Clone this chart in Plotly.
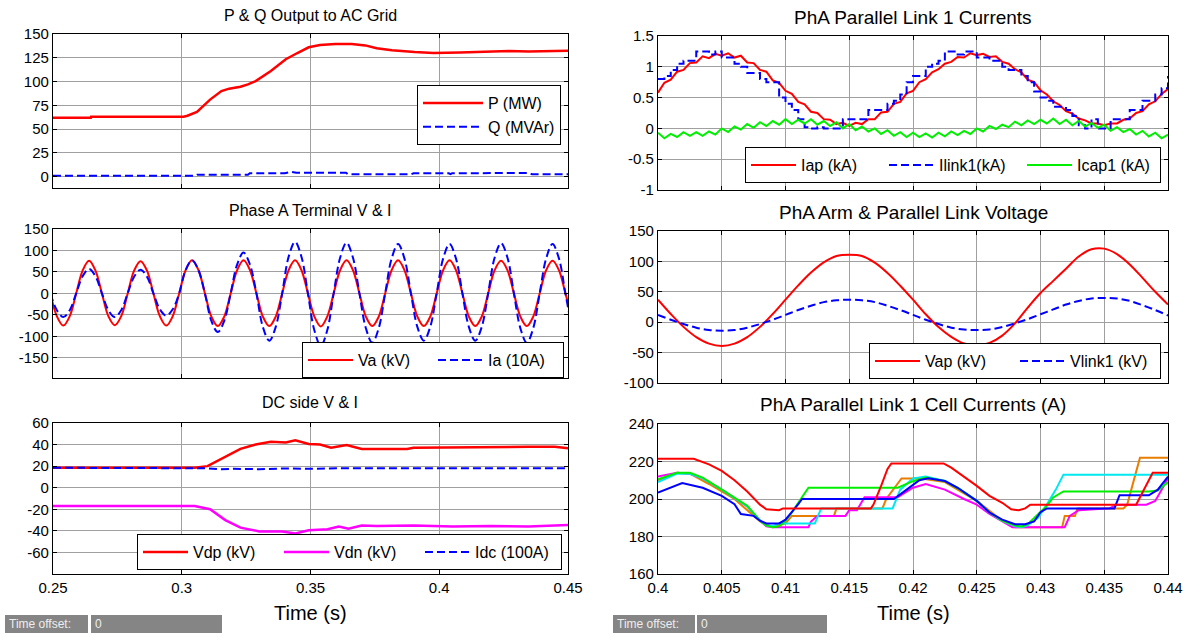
import numpy as np
import plotly.graph_objects as go

# ------------------------------------------------------------------ data
# Plot 1: P & Q output to AC grid
P_T = [0.25, 0.2647, 0.2648, 0.3007, 0.3022, 0.3059, 0.311, 0.3154, 0.3184, 0.3228, 0.3257,
       0.3287, 0.3346, 0.3404, 0.3449, 0.3493, 0.3537, 0.3596, 0.366, 0.3713, 0.3757, 0.3816,
       0.3904, 0.3978, 0.408, 0.4184, 0.4272, 0.4346, 0.4419, 0.45]
P_V = [62, 62, 63, 63, 64, 68, 81, 90, 92.5, 94.5, 97, 100.5, 111, 123.5, 130, 136, 138.5,
       139.5, 139.5, 138, 135, 133, 131, 130, 130.5, 131, 132, 131.5, 132, 132.5]
Q_T = [0.25, 0.3054, 0.306, 0.3257, 0.3264, 0.34, 0.3426, 0.3445, 0.3638, 0.3645, 0.3892,
       0.39, 0.4037, 0.4044, 0.405, 0.432, 0.4345, 0.436, 0.45]
Q_V = [1, 1, 2, 2, 3.5, 3.5, 5, 4, 4, 2.5, 2.5, 3.5, 3.5, 2.5, 3.5, 3.5, 3.8, 2.5, 2.5]

# Plot 2: Phase A terminal V & I (sampled every 2.5 ms from 0.249 s)
AC_T0, AC_DT = 0.249, 0.0025
VA = [0, -53, -75, -53, 0, 53, 76, 53,
      0, -53, -74, -53, 0, 53, 75, 53,
      0, -53, -75, -53, 0, 54, 77, 54,
      0, -54, -76, -54, 0, 54, 77, 54,
      0, -54, -76, -54, 0, 54, 77, 54,
      0, -54, -77, -54, 0, 54, 77, 54,
      0, -54, -76, -54, 0, 54, 77, 54,
      0, -54, -76, -54, 0, 54, 77, 54,
      0, -54, -76, -54, 0, 54, 76, 54,
      0, -54, -76, -54, 0, 54, 76, 54,
      0, -54]
IA = [0, -39, -55, -39, 0, 40, 57, 40,
      0, -39, -55, -39, 0, 39, 55, 39,
      0, -37, -52, -37, 0, 54, 77, 54,
      0, -64, -90, -64, 0, 67, 95, 67,
      0, -78, -110, -78, 0, 85, 120, 85,
      0, -86, -122, -86, 0, 83, 118, 83,
      0, -81, -115, -81, 0, 81, 115, 81,
      0, -78, -110, -78, 0, 81, 115, 81,
      0, -78, -110, -78, 0, 83, 117, 83,
      0, -81, -115, -81, 0, 81, 115, 81,
      0, -80]

# Plot 3: DC side V & I
VDP_T = [0.25, 0.305, 0.31, 0.314, 0.3228, 0.3287, 0.3346, 0.3404, 0.3441, 0.3493, 0.3537,
         0.358, 0.364, 0.3699, 0.3757, 0.3875, 0.39, 0.4051, 0.4199, 0.4346, 0.4449, 0.45]
VDP_V = [18.5, 18.5, 20, 25, 36, 40, 42.5, 42, 44, 40.5, 40, 37, 39.5, 36, 36, 36, 37, 37.5,
         38, 38, 38, 36.5]
VDN_T = [0.25, 0.2993, 0.305, 0.311, 0.3169, 0.3228, 0.3301, 0.339, 0.3441, 0.3493, 0.3566,
         0.361, 0.3647, 0.3699, 0.3757, 0.39, 0.4051, 0.4199, 0.4346, 0.45]
VDN_V = [-17, -16.5, -17, -20, -30, -37, -40.5, -40.5, -42.5, -39.5, -38.5, -36, -38, -35,
         -35.5, -35, -36, -35.5, -36, -34.5]
IDC_T = [0.25, 0.305, 0.31, 0.315, 0.32, 0.33, 0.34, 0.35, 0.36, 0.38, 0.40, 0.42, 0.45]
IDC_V = [18.5, 18.5, 18, 17, 17.5, 17.2, 17.8, 17.5, 18, 18, 18.2, 18, 18]

# Plot 4: PhA parallel link 1 currents (sampled every 0.5 ms from 0.4 s)
LK_T0, LK_DT = 0.4, 0.0005
IAP = [0.58, 0.74, 0.79, 0.92, 0.95, 1.06, 1.07, 1.17, 1.14, 1.21,
       1.18, 1.22, 1.15, 1.18, 1.07, 1.06, 0.95, 0.92, 0.78, 0.74,
       0.61, 0.56, 0.43, 0.39, 0.27, 0.25, 0.15, 0.14, 0.07, 0.09,
       0.04, 0.09, 0.07, 0.15, 0.15, 0.26, 0.27, 0.40, 0.43, 0.57,
       0.61, 0.75, 0.80, 0.91, 0.96, 1.05, 1.08, 1.16, 1.15, 1.22,
       1.19, 1.21, 1.16, 1.17, 1.08, 1.05, 0.96, 0.91, 0.79, 0.75,
       0.62, 0.55, 0.44, 0.38, 0.28, 0.24, 0.16, 0.13, 0.08, 0.08,
       0.05, 0.08, 0.08, 0.14, 0.16, 0.25, 0.28, 0.39, 0.44, 0.56,
       0.64]
ILINK1 = [0.8, 0.85, 0.95, 1.05, 1.1, 1.1, 1.25, 1.25, 1.2, 1.25,
          1.15, 1.15, 1.05, 1.0, 0.9, 0.9, 0.8, 0.75, 0.75, 0.5,
          0.4, 0.3, 0.15, 0.02, 0.0, 0.02, 0.0, 0.0, 0.0, 0.15,
          0.15, 0.15, 0.15, 0.3, 0.3, 0.3, 0.4, 0.45, 0.55, 0.75,
          0.85, 0.85, 1.0, 1.05, 1.1, 1.25, 1.25, 1.2, 1.25, 1.25,
          1.15, 1.15, 1.1, 1.1, 1.0, 0.95, 0.95, 0.85, 0.75, 0.6,
          0.5, 0.45, 0.35, 0.35, 0.3, 0.2, 0.05, 0.0, 0.15, 0.0,
          0.0, 0.15, 0.15, 0.15, 0.3, 0.3, 0.45, 0.45, 0.55, 0.65,
          0.85]
ICAP1 = [-0.07, -0.16, -0.09, -0.14, -0.06, -0.12, -0.06, -0.12, -0.05, -0.10,
         0.0, -0.06, 0.03, -0.02, 0.07, 0.01, 0.10, 0.04, 0.12, 0.06,
         0.15, 0.07, 0.14, 0.08, 0.15, 0.06, 0.12, 0.04, 0.10, 0.0,
         0.07, -0.03, 0.03, -0.05, 0.0, -0.09, -0.03, -0.12, -0.06, -0.14,
         -0.07, -0.14, -0.08, -0.15, -0.07, -0.13, -0.05, -0.11, -0.04, -0.09,
         0.0, -0.05, 0.04, -0.01, 0.06, 0.02, 0.11, 0.05, 0.13, 0.07,
         0.14, 0.08, 0.16, 0.07, 0.14, 0.05, 0.12, 0.03, 0.09, 0.01,
         0.06, -0.04, 0.02, -0.06, -0.01, -0.10, -0.04, -0.13, -0.07, -0.16,
         -0.10]

# Plot 5: PhA arm & parallel link voltage (sampled every 1 ms from 0.4 s)
VL_T0, VL_DT = 0.4, 0.001
VAP = [37, 13.5, -7.7, -24.5, -35.3, -39, -35.3, -24.5, -7.7, 13.5,
       37, 60.5, 81.7, 98.5, 109, 111, 109, 98, 81, 60,
       37, 13, -8, -24, -35, -38, -34, -22, -2, 24,
       48, 68, 88, 108, 120, 121, 112, 95, 73, 50,
       29]
VLINK1 = [12, 4, -3, -9, -13, -14, -13, -9, -3, 4,
          12, 20, 27, 33, 36, 37, 36, 33, 27, 20,
          12, 4, -3, -9, -12, -13, -12, -8, -2, 5,
          13, 21, 29, 35, 39, 40, 39, 35, 28, 20,
          11]

# Plot 6: PhA parallel link 1 cell currents (A)
CELL_ORANGE_T = [0.4, 0.4015, 0.4025, 0.404, 0.406, 0.408, 0.409, 0.41, 0.4105, 0.4138, 0.414,
                 0.4176, 0.4179, 0.4191, 0.4205, 0.4225, 0.425, 0.427, 0.428, 0.4317, 0.4319,
                 0.4327, 0.4329, 0.4365, 0.4368, 0.4378, 0.44]
CELL_ORANGE_V = [210, 214, 213.5, 208, 200, 188, 185, 187, 191, 191, 195, 195, 200, 211, 211,
                 209, 199, 188.4, 185, 185, 191, 191, 195, 195, 197, 222, 222]
CELL_MAGENTA_T = [0.4, 0.4015, 0.4025, 0.4035, 0.405, 0.406, 0.407, 0.408, 0.4085, 0.409,
                  0.4118, 0.412, 0.4125, 0.4147, 0.415, 0.4156, 0.4162, 0.4188, 0.42, 0.421,
                  0.4225, 0.424, 0.425, 0.426, 0.427, 0.4278, 0.4319, 0.4323, 0.433, 0.4354,
                  0.436, 0.4383, 0.439, 0.44]
CELL_MAGENTA_V = [212, 214, 213.5, 211, 205, 200.5, 196, 188.4, 185.5, 185, 185, 188, 191, 191,
                  194, 194, 201, 201, 206, 208, 205, 200, 197, 192, 188, 185, 185, 191, 194,
                  195, 197, 197, 199, 211]
CELL_CYAN_T = [0.4, 0.4015, 0.4025, 0.4035, 0.405, 0.406, 0.407, 0.408, 0.4085, 0.409, 0.4095,
               0.4123, 0.4128, 0.4184, 0.419, 0.42, 0.421, 0.4225, 0.4235, 0.425, 0.426, 0.427,
               0.428, 0.4285, 0.429, 0.4298, 0.4305, 0.4312, 0.4318, 0.44]
CELL_CYAN_V = [209, 213.5, 213.5, 211, 205, 200.5, 196, 188.5, 186, 185.5, 187, 187, 195, 195,
               205, 211, 212, 209.6, 206, 199, 192.8, 188.4, 185.5, 185, 186, 190, 197, 205,
               213, 213]
CELL_GREEN_T = [0.4, 0.4015, 0.4025, 0.4035, 0.405, 0.406, 0.407, 0.408, 0.4085, 0.409, 0.4095,
                0.41, 0.4105, 0.411, 0.4115, 0.4118, 0.4188, 0.42, 0.421, 0.4225, 0.4235, 0.425,
                0.426, 0.427, 0.428, 0.4285, 0.429, 0.43, 0.4305, 0.431, 0.4318, 0.4385, 0.4392,
                0.44]
CELL_GREEN_V = [210.5, 214, 214, 211.4, 205, 200.8, 196.4, 188.4, 185.8, 185, 185.4, 188.4,
                192.8, 198, 203.4, 206, 206, 209.5, 211.5, 209.6, 206, 199, 192.8, 188.4, 185.8,
                185.4, 186.6, 192.8, 196.4, 200.8, 204, 204, 204.5, 209]
CELL_BLUE_T = [0.4, 0.4019, 0.4035, 0.405, 0.406, 0.4065, 0.4075, 0.408, 0.4085, 0.4095, 0.41,
               0.4105, 0.411, 0.4113, 0.4185, 0.4195, 0.4205, 0.4212, 0.4225, 0.4235, 0.425,
               0.426, 0.427, 0.428, 0.4288, 0.4295, 0.43, 0.4305, 0.4358, 0.4362, 0.4385,
               0.4392, 0.44]
CELL_BLUE_V = [203.4, 208.5, 206, 201.7, 197.2, 192, 191, 188.4, 187, 187, 189, 192.8, 197.2,
               200, 200, 205, 210, 211, 209.6, 206, 199, 192.8, 189, 186.5, 186.5, 188, 193,
               195, 195, 202, 202, 205, 212]
CELL_RED_T = [0.4, 0.4028, 0.404, 0.405, 0.406, 0.407, 0.408, 0.4085, 0.4095, 0.4098, 0.4167,
              0.4169, 0.4175, 0.418, 0.4183, 0.4224, 0.423, 0.424, 0.425, 0.426, 0.427, 0.4277,
              0.4283, 0.4288, 0.4292, 0.4375, 0.4388, 0.44]
CELL_RED_V = [221.5, 221.5, 218.5, 215, 210, 204, 197, 194.5, 194, 195, 195, 197, 207, 216,
              219, 219, 216.7, 212, 207, 201.7, 198, 194.5, 194, 195, 197, 197, 214, 214]

# Axis ticks / labels
L1_TICKS = [0, 25, 50, 75, 100, 125, 150]
L2_TICKS = [-150, -100, -50, 0, 50, 100, 150]
L3_TICKS = [-60, -40, -20, 0, 20, 40, 60]
LX_TICKS = [0.25, 0.3, 0.35, 0.4, 0.45]
LX_TEXT = ["0.25", "0.3", "0.35", "0.4", "0.45"]
R1_TICKS = [-1, -0.5, 0, 0.5, 1, 1.5]
R1_TEXT = ["-1", "-0.5", "0", "0.5", "1", "1.5"]
R2_TICKS = [-100, -50, 0, 50, 100, 150]
R3_TICKS = [160, 180, 200, 220, 240]
RX_TICKS = [0.4, 0.405, 0.41, 0.415, 0.42, 0.425, 0.43, 0.435, 0.44]
RX_TEXT = ["0.4", "0.405", "0.41", "0.415", "0.42", "0.425", "0.43", "0.435", "0.44"]

TITLES = ["P & Q Output to AC Grid", "Phase A Terminal V & I", "DC side V & I",
          "PhA Parallel Link 1 Currents", "PhA Arm & Parallel Link Voltage",
          "PhA Parallel Link 1 Cell Currents (A)"]

# ------------------------------------------------------------------ layout geometry
W, H = 1189, 633
FONT = "Liberation Sans, Arial, Helvetica, sans-serif"


def px_x(v):
    return v / W


def px_y(v):
    return 1 - v / H


LEFT = [px_x(53), px_x(568)]
RIGHT = [px_x(658), px_x(1168)]
ROWS_L = [(34, 188), (229, 378), (423, 574)]
ROWS_R = [(36, 190), (231, 383), (424, 574)]

t_ac = np.round(AC_T0 + AC_DT * np.arange(len(VA)), 6)
t_lk = np.round(LK_T0 + LK_DT * np.arange(len(IAP)), 6)
t_vl = np.round(VL_T0 + VL_DT * np.arange(len(VAP)), 6)

RED = "#ff0000"
BLUE = "#0000ff"
GREEN = "#00ee00"
MAGENTA = "#ff00ff"
ORANGE = "#e87d00"
CYAN = "#00e8f0"
DASH = "8px,4px"

fig = go.Figure()


def add(x, y, axis, name=None, color=RED, dash=None, width=2, legend=None, shape="linear"):
    fig.add_trace(go.Scatter(
        x=x, y=y, mode="lines", name=name, showlegend=name is not None,
        legend=legend, xaxis="x" + axis, yaxis="y" + axis,
        line=dict(color=color, width=width, dash=dash, shape=shape),
        hoverinfo="skip"))


# Plot 1
add(P_T, P_V, "1", "P (MW)", RED, None, 2.5, "legend")
add(Q_T, Q_V, "1", "Q (MVAr)", BLUE, DASH, 2, "legend")
# Plot 2
add(t_ac, VA, "2", "Va (kV)", RED, None, 2, "legend2", "spline")
add(t_ac, IA, "2", "Ia (10A)", BLUE, DASH, 2, "legend2", "spline")
# Plot 3
add(VDP_T, VDP_V, "3", "Vdp (kV)", RED, None, 2.5, "legend3")
add(VDN_T, VDN_V, "3", "Vdn (kV)", MAGENTA, None, 2.5, "legend3")
add(IDC_T, IDC_V, "3", "Idc (100A)", BLUE, DASH, 2, "legend3")
# Plot 4
add(t_lk, IAP, "4", "Iap (kA)", RED, None, 2, "legend4")
add(t_lk, ILINK1, "4", "Ilink1(kA)", BLUE, DASH, 2, "legend4", "hv")
add(t_lk, ICAP1, "4", "Icap1 (kA)", GREEN, None, 2, "legend4")
# Plot 5
add(t_vl, VAP, "5", "Vap (kV)", RED, None, 2, "legend5", "spline")
add(t_vl, VLINK1, "5", "Vlink1 (kV)", BLUE, DASH, 2, "legend5", "spline")
# Plot 6
add(CELL_ORANGE_T, CELL_ORANGE_V, "6", None, ORANGE)
add(CELL_MAGENTA_T, CELL_MAGENTA_V, "6", None, MAGENTA)
add(CELL_CYAN_T, CELL_CYAN_V, "6", None, CYAN)
add(CELL_GREEN_T, CELL_GREEN_V, "6", None, GREEN)
add(CELL_BLUE_T, CELL_BLUE_V, "6", None, BLUE)
add(CELL_RED_T, CELL_RED_V, "6", None, RED)

base_axis = dict(showline=True, linecolor="black", linewidth=1.3, mirror="allticks",
                 ticks="inside", ticklen=4, tickcolor="black", showgrid=True,
                 gridcolor="#a0a0a0", gridwidth=1, zeroline=False, automargin=False,
                 tickfont=dict(family=FONT, size=15, color="black"))

axes = {}
specs = [
    ("1", LEFT, ROWS_L[0], [0.25, 0.45], [-12, 150], LX_TICKS, LX_TEXT, L1_TICKS, None, False),
    ("2", LEFT, ROWS_L[1], [0.25, 0.45], [-197, 150], LX_TICKS, LX_TEXT, L2_TICKS, None, False),
    ("3", LEFT, ROWS_L[2], [0.25, 0.45], [-80, 60], LX_TICKS, LX_TEXT, L3_TICKS, None, True),
    ("4", RIGHT, ROWS_R[0], [0.4, 0.44], [-1, 1.5], RX_TICKS, RX_TEXT, R1_TICKS, R1_TEXT, False),
    ("5", RIGHT, ROWS_R[1], [0.4, 0.44], [-100, 150], RX_TICKS, RX_TEXT, R2_TICKS, None, False),
    ("6", RIGHT, ROWS_R[2], [0.4, 0.44], [160, 240], RX_TICKS, RX_TEXT, R3_TICKS, None, True),
]
for ax, xdom, (ytop, ybot), xr, yr, xt, xtt, yt, ytt, showx in specs:
    xa = dict(base_axis, domain=xdom, range=xr, anchor="y" + ax, tickvals=xt, ticktext=xtt,
              showticklabels=showx)
    ya = dict(base_axis, domain=[px_y(ybot), px_y(ytop)], range=yr, anchor="x" + ax,
              tickvals=yt, ticktext=ytt if ytt else [str(v) for v in yt])
    key = "" if ax == "1" else ax
    axes["xaxis" + key] = xa
    axes["yaxis" + key] = ya

annotations = []
title_pos = [(310.5, 15, 16), (310.5, 210, 16), (310.5, 403, 16),
             (913, 17, 19), (913, 212, 19), (913, 405, 19)]
for text, (cx, cy, fs) in zip(TITLES, title_pos):
    annotations.append(dict(text=text, x=px_x(cx), y=px_y(cy), xref="paper", yref="paper",
                            xanchor="center", yanchor="middle", showarrow=False,
                            font=dict(family=FONT, size=fs, color="black")))
for cx in (310.5, 913):
    annotations.append(dict(text="Time (s)", x=px_x(cx), y=px_y(613), xref="paper",
                            yref="paper", xanchor="center", yanchor="middle", showarrow=False,
                            font=dict(family=FONT, size=20, color="black")))

shapes = []
for x0, x1, x2, x3 in [(5, 88, 91, 222), (613, 695, 697, 827)]:
    for a, b in [(x0, x1), (x2, x3)]:
        shapes.append(dict(type="rect", xref="paper", yref="paper", x0=px_x(a), x1=px_x(b),
                           y0=px_y(633), y1=px_y(615), fillcolor="#858585", line_width=0,
                           layer="above"))
    annotations.append(dict(text="Time offset:", x=px_x(x0 + 2), y=px_y(624), xref="paper",
                            yref="paper", xanchor="left", yanchor="middle", showarrow=False,
                            font=dict(family=FONT, size=12, color="#eeeeee")))
    annotations.append(dict(text="0", x=px_x(x2 + 2), y=px_y(624), xref="paper", yref="paper",
                            xanchor="left", yanchor="middle", showarrow=False,
                            font=dict(family=FONT, size=12, color="#eeeeee")))

leg_common = dict(bgcolor="white", bordercolor="black", borderwidth=1, itemwidth=45,
                  font=dict(family=FONT, size=16, color="black"), xref="paper", yref="paper")
legends = dict(
    legend=dict(leg_common, orientation="v", x=px_x(561), y=px_y(85), xanchor="right",
                yanchor="top", itemwidth=60),
    legend2=dict(leg_common, orientation="h", x=px_x(564), y=px_y(378), xanchor="right",
                 yanchor="bottom", entrywidth=70),
    legend3=dict(leg_common, orientation="h", x=px_x(562), y=px_y(570), xanchor="right",
                 yanchor="bottom", entrywidth=81),
    legend4=dict(leg_common, orientation="h", x=px_x(1161), y=px_y(183), xanchor="right",
                 yanchor="bottom", entrywidth=78),
    legend5=dict(leg_common, orientation="h", x=px_x(1161), y=px_y(379), xanchor="right",
                 yanchor="bottom", entrywidth=85),
)

fig.update_layout(width=W, height=H, margin=dict(l=0, r=0, t=0, b=0, pad=0),
                  paper_bgcolor="white", plot_bgcolor="white", showlegend=True,
                  annotations=annotations, shapes=shapes, **axes, **legends)

fig.write_html("out.html", config={"displayModeBar": False},
               post_script="document.body.style.margin='0';document.body.style.overflow='hidden';")
